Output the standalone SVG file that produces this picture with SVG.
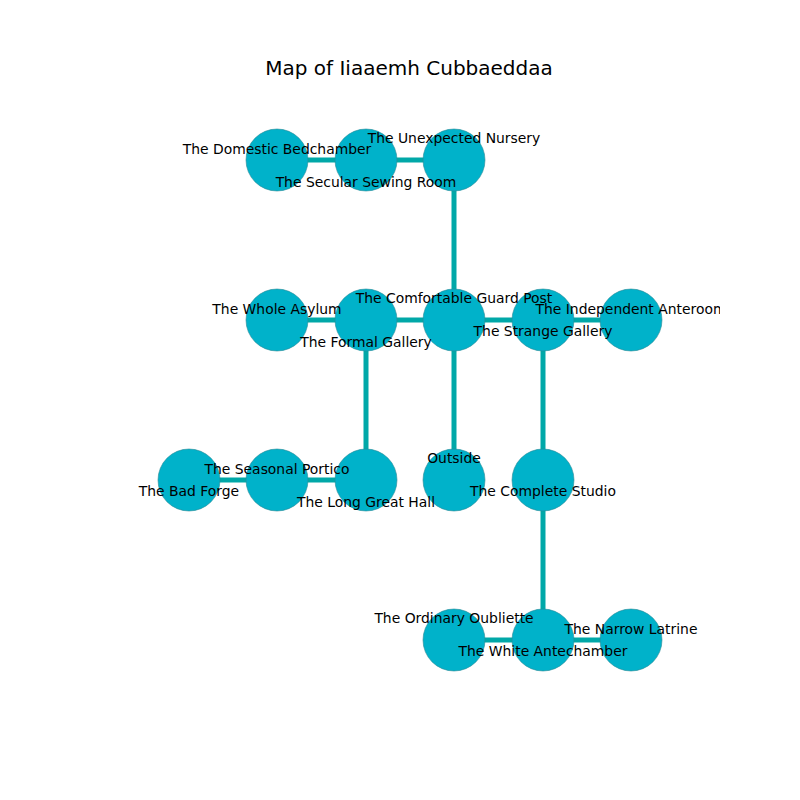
<svg xmlns="http://www.w3.org/2000/svg" width="800" height="800" viewBox="0 0 800 800">
<style>
.e{stroke:#00a8a8;stroke-width:5;fill:none}
.n{fill:#00b2ca;stroke:#2a8a96;stroke-width:0.6}
.l{font-family:"DejaVu Sans",sans-serif;font-size:13.9px;fill:#000;text-anchor:middle;dominant-baseline:central}
.t{font-family:"DejaVu Sans",sans-serif;font-size:20px;fill:#000;text-anchor:middle;dominant-baseline:central}
</style>
<defs><clipPath id="ax"><rect x="80" y="96" width="640" height="608"/></clipPath></defs>
<rect width="800" height="800" fill="#fff"/>
<text class="t" x="409" y="68">Map of Iiaaemh Cubbaeddaa</text>
<g id="connectors" clip-path="url(#ax)">
<line class="e" x1="277" y1="160" x2="366" y2="160"/>
<line class="e" x1="366" y1="160" x2="454" y2="160"/>
<line class="e" x1="454" y1="160" x2="454" y2="320"/>
<line class="e" x1="277" y1="320" x2="366" y2="320"/>
<line class="e" x1="366" y1="320" x2="454" y2="320"/>
<line class="e" x1="454" y1="320" x2="543" y2="320"/>
<line class="e" x1="543" y1="320" x2="631" y2="320"/>
<line class="e" x1="366" y1="320" x2="366" y2="480"/>
<line class="e" x1="454" y1="320" x2="454" y2="480"/>
<line class="e" x1="543" y1="320" x2="543" y2="480"/>
<line class="e" x1="189" y1="480" x2="277" y2="480"/>
<line class="e" x1="277" y1="480" x2="366" y2="480"/>
<line class="e" x1="543" y1="480" x2="543" y2="640"/>
<line class="e" x1="454" y1="640" x2="543" y2="640"/>
<line class="e" x1="543" y1="640" x2="631" y2="640"/>
</g>
<g clip-path="url(#ax)">
<g id="domestic-bedchamber"><circle class="n" cx="277" cy="160" r="31"/></g>
<g id="secular-sewing-room"><circle class="n" cx="366" cy="160" r="31"/></g>
<g id="unexpected-nursery"><circle class="n" cx="454" cy="160" r="31"/></g>
<g id="whole-asylum"><circle class="n" cx="277" cy="320" r="31"/></g>
<g id="formal-gallery"><circle class="n" cx="366" cy="320" r="31"/></g>
<g id="comfortable-guard-post"><circle class="n" cx="454" cy="320" r="31"/></g>
<g id="strange-gallery"><circle class="n" cx="543" cy="320" r="31"/></g>
<g id="independent-anteroom"><circle class="n" cx="631" cy="320" r="31"/></g>
<g id="bad-forge"><circle class="n" cx="189" cy="480" r="31"/></g>
<g id="seasonal-portico"><circle class="n" cx="277" cy="480" r="31"/></g>
<g id="long-great-hall"><circle class="n" cx="366" cy="480" r="31"/></g>
<g id="outside"><circle class="n" cx="454" cy="480" r="31"/></g>
<g id="complete-studio"><circle class="n" cx="543" cy="480" r="31"/></g>
<g id="ordinary-oubliette"><circle class="n" cx="454" cy="640" r="31"/></g>
<g id="white-antechamber"><circle class="n" cx="543" cy="640" r="31"/></g>
<g id="narrow-latrine"><circle class="n" cx="631" cy="640" r="31"/></g>
</g>
<g id="labels" clip-path="url(#ax)">
<text class="l" x="277" y="149">The Domestic Bedchamber</text>
<text class="l" x="366" y="182">The Secular Sewing Room</text>
<text class="l" x="454" y="138">The Unexpected Nursery</text>
<text class="l" x="277" y="309">The Whole Asylum</text>
<text class="l" x="366" y="342">The Formal Gallery</text>
<text class="l" x="454" y="298">The Comfortable Guard Post</text>
<text class="l" x="543" y="331">The Strange Gallery</text>
<text class="l" x="631" y="309">The Independent Anteroom</text>
<text class="l" x="277" y="469">The Seasonal Portico</text>
<text class="l" x="189" y="491">The Bad Forge</text>
<text class="l" x="366" y="502">The Long Great Hall</text>
<text class="l" x="454" y="458">Outside</text>
<text class="l" x="543" y="491">The Complete Studio</text>
<text class="l" x="454" y="618">The Ordinary Oubliette</text>
<text class="l" x="543" y="651">The White Antechamber</text>
<text class="l" x="631" y="629">The Narrow Latrine</text>
</g>
</svg>
